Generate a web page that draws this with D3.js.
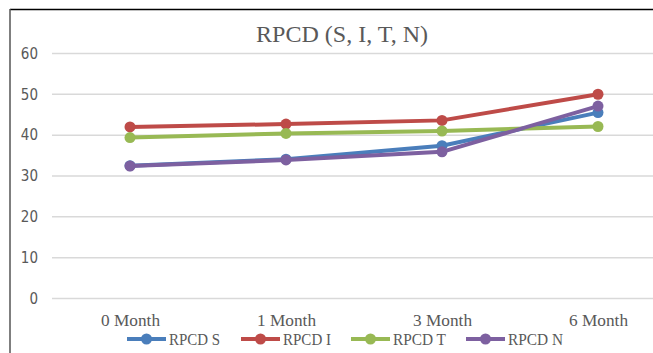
<!DOCTYPE html>
<html>
<head>
<meta charset="utf-8">
<script src="https://cdn.jsdelivr.net/npm/d3@7"></script>
<style>
  html, body { margin: 0; padding: 0; background: #ffffff; }
  svg { display: block; }
</style>
</head>
<body>
<svg id="chart" width="653" height="353"></svg>
<script>
// Time points and RPCD series values
const categories = ["0 Month", "1 Month", "3 Month", "6 Month"];
const seriesNames = ["RPCD S", "RPCD I", "RPCD T", "RPCD N"];
const rpcdS = [32.4, 34.0, 37.3, 45.4];
const rpcdI = [41.9, 42.6, 43.5, 49.9];
const rpcdT = [39.3, 40.3, 40.9, 42.0];
const rpcdN = [32.3, 33.8, 35.8, 47.0];
const yTicks = [0, 10, 20, 30, 40, 50, 60];
const colors = ["#4a7ebb", "#be4b48", "#98b954", "#7d60a0"];

const series = [rpcdS, rpcdI, rpcdT, rpcdN].map((values, i) => ({
  name: seriesNames[i], values, color: colors[i]
}));

const svg = d3.select("#chart");
const W = 653, H = 353;
const serif = "'Liberation Serif', 'DejaVu Serif', serif";

// Outer chart frame (top and left edges visible)
svg.append("line").attr("x1", 10).attr("y1", 9.5).attr("x2", W).attr("y2", 9.5)
  .attr("stroke", "#000").attr("stroke-width", 1.5);
svg.append("line").attr("x1", 10).attr("y1", 9).attr("x2", 10).attr("y2", H)
  .attr("stroke", "#555").attr("stroke-width", 1.5);

// Title
svg.append("text")
  .attr("x", 342).attr("y", 42)
  .attr("text-anchor", "middle")
  .attr("font-family", serif)
  .attr("font-size", 24)
  .attr("fill", "#595959")
  .attr("textLength", 172)
  .attr("lengthAdjust", "spacingAndGlyphs")
  .text("RPCD (S, I, T, N)");

const plotLeft = 52, bandW = 156;
const x = d3.scalePoint()
  .domain(categories)
  .range([plotLeft + bandW / 2, plotLeft + bandW * 3.5]);
const y = d3.scaleLinear().domain([0, 60]).range([298, 53]);

// Horizontal gridlines
const yAxis = d3.axisLeft(y).tickValues(yTicks).tickSize(-(W - plotLeft)).tickPadding(14);
const gy = svg.append("g").attr("transform", `translate(${plotLeft},0)`).call(yAxis);
gy.select(".domain").remove();
gy.selectAll(".tick line").attr("stroke", "#d9d9d9").attr("stroke-width", 1.5);
gy.selectAll(".tick text")
  .attr("font-family", "'Liberation Sans Narrow', 'DejaVu Sans Condensed', 'Liberation Sans', sans-serif")
  .attr("font-size", 15)
  .attr("fill", "#595959")
  .attr("dy", "0.35em");

// Category labels
const xAxis = d3.axisBottom(x).tickSize(0).tickPadding(0);
const gx = svg.append("g").attr("transform", "translate(0,298)").call(xAxis);
gx.select(".domain").remove();
gx.selectAll(".tick text")
  .attr("font-family", serif)
  .attr("font-size", 17)
  .attr("fill", "#595959")
  .attr("dy", 0)
  .attr("y", 28)
  .attr("textLength", 59)
  .attr("lengthAdjust", "spacingAndGlyphs");

// Lines and markers
const line = d3.line().x((d, i) => x(categories[i])).y(d => y(d));
const g = svg.append("g");
series.forEach(s => {
  g.append("path")
    .datum(s.values)
    .attr("d", line)
    .attr("fill", "none")
    .attr("stroke", s.color)
    .attr("stroke-width", 4)
    .attr("stroke-linejoin", "round")
    .attr("stroke-linecap", "round");
  g.selectAll(null)
    .data(s.values)
    .enter().append("circle")
    .attr("cx", (d, i) => x(categories[i]))
    .attr("cy", d => y(d))
    .attr("r", 5.5)
    .attr("fill", s.color);
});

// Legend
const legendX = [127, 241, 351, 466];
const legend = svg.append("g").attr("transform", "translate(0,339)");
series.forEach((s, i) => {
  const lg = legend.append("g").attr("transform", `translate(${legendX[i]},0)`);
  lg.append("line").attr("x1", 0).attr("x2", 39).attr("y1", 0).attr("y2", 0)
    .attr("stroke", s.color).attr("stroke-width", 4);
  lg.append("circle").attr("cx", 19.5).attr("cy", 0).attr("r", 5.5).attr("fill", s.color);
  lg.append("text")
    .attr("x", 42).attr("y", 0).attr("dy", "0.35em")
    .attr("font-family", serif)
    .attr("font-size", 17)
    .attr("fill", "#595959")
    .attr("textLength", [51, 48, 53, 55][i])
    .attr("lengthAdjust", "spacingAndGlyphs")
    .text(s.name);
});
</script>
</body>
</html>
